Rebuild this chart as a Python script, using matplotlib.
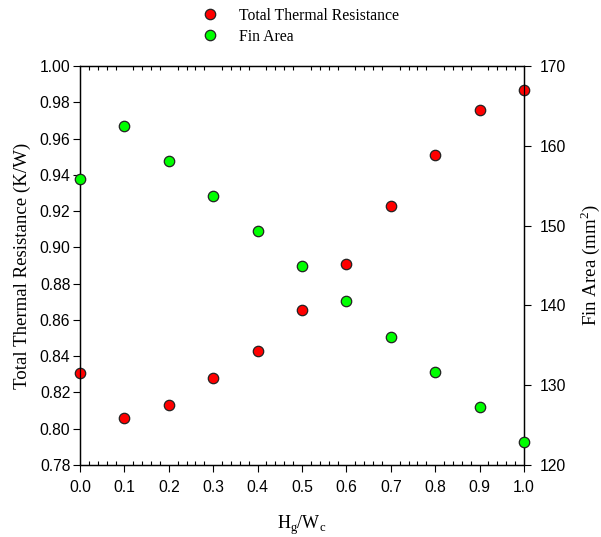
import matplotlib
matplotlib.use("Agg")
import matplotlib.pyplot as plt
from matplotlib.ticker import MultipleLocator, FormatStrFormatter
from matplotlib.lines import Line2D

ratio = [0.0, 0.1, 0.2, 0.3, 0.4, 0.5, 0.6, 0.7, 0.8, 0.9, 1.0]
thermal_resistance = [0.831, 0.806, 0.813, 0.828, 0.843, 0.8655, 0.891, 0.923, 0.951, 0.976, 0.987]
fin_area = [155.9, 162.5, 158.1, 153.7, 149.3, 144.9, 140.5, 136.1, 131.7, 127.3, 122.9]

serif = ["Liberation Serif", "DejaVu Serif"]
sans = ["Liberation Sans", "DejaVu Sans"]

fig = plt.figure(figsize=(6.01, 5.37), dpi=100)
ax = fig.add_axes([80/601, 1-465/537, 444/601, 399/537])
ax2 = ax.twinx()

ms = 7.5
ax2.plot(ratio, fin_area, linestyle='none', marker='o', markersize=ms,
         markerfacecolor='#00ff00', markeredgecolor='#222222', markeredgewidth=0.9,
         clip_on=False, zorder=3)
ax.plot(ratio, thermal_resistance, linestyle='none', marker='o', markersize=ms,
        markerfacecolor='#ff0000', markeredgecolor='#222222', markeredgewidth=0.9,
        clip_on=False, zorder=3)

ax.set_xlim(0, 1.0)
ax.set_ylim(0.78, 1.00)
ax2.set_ylim(120, 170)

ax.xaxis.set_major_locator(MultipleLocator(0.1))
ax.xaxis.set_minor_locator(MultipleLocator(0.02))
ax.xaxis.set_major_formatter(FormatStrFormatter('%.1f'))
ax.yaxis.set_major_locator(MultipleLocator(0.02))
ax.yaxis.set_major_formatter(FormatStrFormatter('%.2f'))
ax2.yaxis.set_major_locator(MultipleLocator(10))

ax.tick_params(axis='x', which='major', direction='out', bottom=True, top=False,
               length=5, width=0.8, pad=6)
ax.tick_params(axis='x', which='minor', direction='in', bottom=True, top=True,
               length=3, width=0.8)
ax.tick_params(axis='y', which='major', direction='out', left=True, right=False,
               length=5, width=0.8, pad=2)
ax2.tick_params(axis='y', which='major', direction='out', right=True,
                length=5, width=0.8, pad=6)

for a in (ax, ax2):
    for s in a.spines.values():
        s.set_linewidth(0.9)

for lbl in ax.get_xticklabels() + ax.get_yticklabels() + ax2.get_yticklabels():
    lbl.set_fontfamily(sans)
    lbl.set_fontsize(11.3)

ax.set_xlabel(r'H$_\mathregular{g}$/W$_\mathregular{c}$', fontfamily=serif, fontsize=13, labelpad=13)
ax.set_ylabel('Total Thermal Resistance (K/W)', fontfamily=serif, fontsize=13.6, labelpad=6)
ax2.set_ylabel(r'Fin Area (mm$^\mathregular{2}$)', fontfamily=serif, fontsize=13.6, labelpad=9)

handles = [
    Line2D([], [], linestyle='none', marker='o', markersize=ms, markerfacecolor='#ff0000',
           markeredgecolor='#222222', markeredgewidth=0.9),
    Line2D([], [], linestyle='none', marker='o', markersize=ms, markerfacecolor='#00ff00',
           markeredgecolor='#222222', markeredgewidth=0.9),
]
fig.legend(handles, ['Total Thermal Resistance', 'Fin Area'], loc='upper left',
           bbox_to_anchor=(186/601, 1.0), frameon=False,
           prop={'family': serif, 'size': 11.3}, handletextpad=0.9, labelspacing=0.3,
           borderaxespad=0.1)

fig.savefig('out.png', dpi=100)
